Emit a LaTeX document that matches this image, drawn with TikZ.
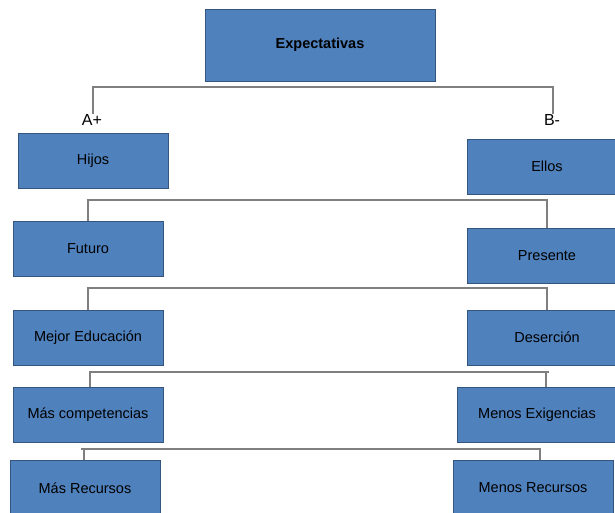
\documentclass[tikz,border=0pt]{standalone}
\usepackage{fontspec}
\setmainfont{Liberation Sans}
\definecolor{boxfill}{HTML}{4F81BD}
\definecolor{boxline}{HTML}{34557D}
\definecolor{conn}{HTML}{7F7F7F}
\begin{document}
\begin{tikzpicture}[x=1pt,y=-1pt,
  box/.style={draw=boxline, fill=boxfill, line width=1pt, inner sep=0pt, font=\fontsize{14.5}{16}\selectfont, text=black},
  link/.style={draw=conn, line width=1.2pt},
  lab/.style={font=\fontsize{16}{18}\selectfont, inner sep=0pt}]
\useasboundingbox (0,0) rectangle (615,512);
\clip (0,0) rectangle (615,512);
% boxes
\node[box, minimum width=230pt, minimum height=72pt, font=\fontsize{14.5}{16}\selectfont\bfseries] (exp) at (320,45) {Expectativas};
\node[box, minimum width=150pt, minimum height=55pt] (hijos) at (93,160.5) {Hijos};
\node[box, minimum width=150pt, minimum height=55pt] (ellos) at (542,166.5) {\hspace{10pt}Ellos};
\node[box, minimum width=150pt, minimum height=55pt] (futuro) at (88,248.5) {Futuro};
\node[box, minimum width=150pt, minimum height=55pt] (presente) at (542,255.5) {\hspace{10pt}Presente};
\node[box, minimum width=150pt, minimum height=55pt] (mejor) at (88,337.5) {Mejor Educación};
\node[box, minimum width=150pt, minimum height=55pt] (desercion) at (542,337.5) {\hspace{10pt}Deserción};
\node[box, minimum width=150pt, minimum height=55pt] (mascomp) at (88,414.5) {Más competencias};
\node[box, minimum width=160pt, minimum height=55pt] (menosex) at (537,414.5) {Menos Exigencias};
\node[box, minimum width=150pt, minimum height=55pt] (masrec) at (85,488) {Más Recursos};
\node[box, minimum width=160pt, minimum height=55pt] (menosrec) at (533,488) {Menos Recursos};
% labels
\node[lab] (aplus) at (92,120) {A+};
\node[lab] (bminus) at (552,120) {B-};
% connectors
\coordinate (c1) at (93,87);
\coordinate (c2) at (553,87);
\draw[link] (aplus.north -| c1) -- (c1) -- (c2) -- (bminus.north -| c2);
\coordinate (d1) at (88,200);
\coordinate (d2) at (547,200);
\draw[link] (futuro.north -| d1) -- (d1) -- (d2) -- (presente.north -| d2);
\coordinate (e1) at (88,288);
\coordinate (e2) at (547,288);
\draw[link] (mejor.north -| e1) -- (e1) -- (e2) -- (desercion.north -| e2);
\coordinate (f1) at (90,372);
\coordinate (f2) at (546,372);
\draw[link] (mascomp.north -| f1) -- (f1) -- ([xshift=3pt]f2) (f2) -- (menosex.north -| f2);
\coordinate (g1) at (84,449);
\coordinate (g2) at (540,449);
\draw[link] (masrec.north -| g1) -- (g1) -- (g2) -- (menosrec.north -| g2);
\draw[link] (g1) -- ([xshift=-3pt]g1);
\end{tikzpicture}
\end{document}
